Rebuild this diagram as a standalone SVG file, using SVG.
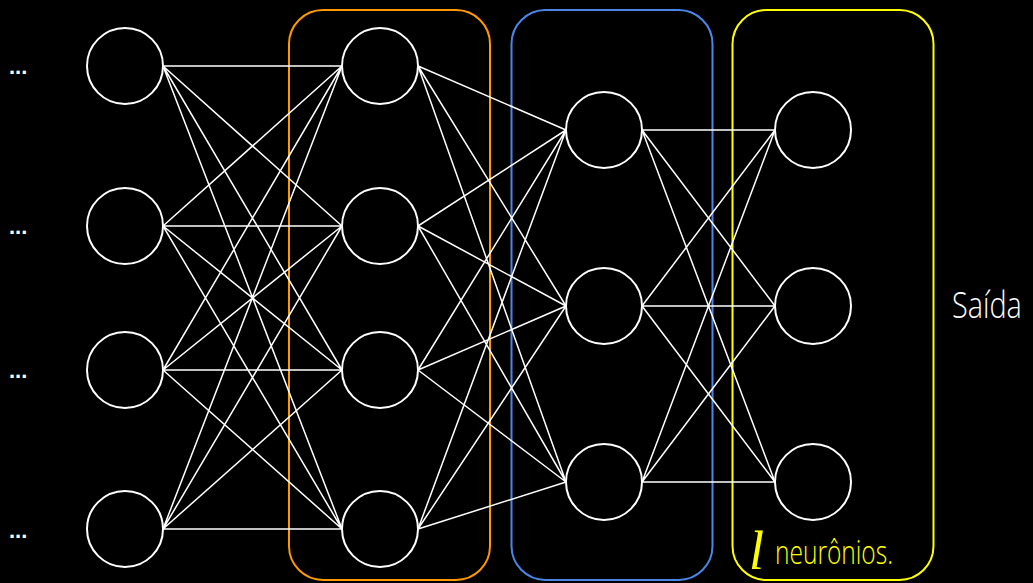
<svg xmlns="http://www.w3.org/2000/svg" width="1033" height="583" viewBox="0 0 1033 583">
<style>
.n{fill:none;stroke:#fff;stroke-width:2}
.e{stroke:#fff;stroke-width:1.5;fill:none}
.dots{font-family:"Liberation Sans",Arial,sans-serif;font-weight:bold;font-size:22px;fill:#fff}
.box{fill:none;stroke-width:2}
</style>
<rect width="1033" height="583" fill="#000"/>
<g id="layer-boxes">
<rect id="box-orange" class="box" x="289" y="10" width="201" height="570" rx="34" stroke="#ff9900"/>
<rect id="box-blue" class="box" x="511.5" y="10" width="201" height="570" rx="34" stroke="#4a86e8"/>
<rect id="box-yellow" class="box" x="732.5" y="10" width="201" height="570" rx="34" stroke="#ffff00"/>
</g>
<g id="connectors">
<path class="e" d="M163,66L342,66M163,66L342,226M163,66L342,370M163,66L342,529
M163,226L342,66M163,226L342,226M163,226L342,370M163,226L342,529
M163,370L342,66M163,370L342,226M163,370L342,370M163,370L342,529
M163,529L342,66M163,529L342,226M163,529L342,370M163,529L342,529"/>
<path class="e" d="M418,66L566,130M418,66L566,306M418,66L566,482
M418,226L566,130M418,226L566,306M418,226L566,482
M418,370L566,130M418,370L566,306M418,370L566,482
M418,529L566,130M418,529L566,306M418,529L566,482"/>
<path class="e" d="M642,130L775,130M642,130L775,306M642,130L775,482
M642,306L775,130M642,306L775,306M642,306L775,482
M642,482L775,130M642,482L775,306M642,482L775,482"/>
</g>
<g id="input-dots">
<text class="dots" x="9" y="74">...</text>
<text class="dots" x="9" y="234">...</text>
<text class="dots" x="9" y="378">...</text>
<text class="dots" x="9" y="538">...</text>
</g>
<g id="layer1">
<circle id="n1-1" class="n" cx="125" cy="66" r="38"/>
<circle id="n1-2" class="n" cx="125" cy="226" r="38"/>
<circle id="n1-3" class="n" cx="125" cy="370" r="38"/>
<circle id="n1-4" class="n" cx="125" cy="529" r="38"/>
</g>
<g id="layer2">
<circle id="n2-1" class="n" cx="380" cy="66" r="38"/>
<circle id="n2-2" class="n" cx="380" cy="226" r="38"/>
<circle id="n2-3" class="n" cx="380" cy="370" r="38"/>
<circle id="n2-4" class="n" cx="380" cy="529" r="38"/>
</g>
<g id="layer3">
<circle id="n3-1" class="n" cx="604" cy="130" r="38"/>
<circle id="n3-2" class="n" cx="604" cy="306" r="38"/>
<circle id="n3-3" class="n" cx="604" cy="482" r="38"/>
</g>
<g id="layer4">
<circle id="n4-1" class="n" cx="813" cy="130" r="38"/>
<circle id="n4-2" class="n" cx="813" cy="306" r="38"/>
<circle id="n4-3" class="n" cx="813" cy="482" r="38"/>
</g>
<g id="label-saida">
<text transform="translate(952,318) scale(0.8,1)" x="0" y="0" font-family="'Open Sans',sans-serif" font-weight="300" font-size="36" fill="#fff">Saída</text>
</g>
<g id="label-neurons">
<text x="749" y="569" font-family="'Liberation Serif',serif" font-style="italic" font-size="54" fill="#ffff00">l</text>
<text x="775" y="564" font-family="'Open Sans',sans-serif" font-weight="300" font-size="33" fill="#ffff00" textLength="118" lengthAdjust="spacingAndGlyphs">neurônios.</text>
</g>
</svg>
